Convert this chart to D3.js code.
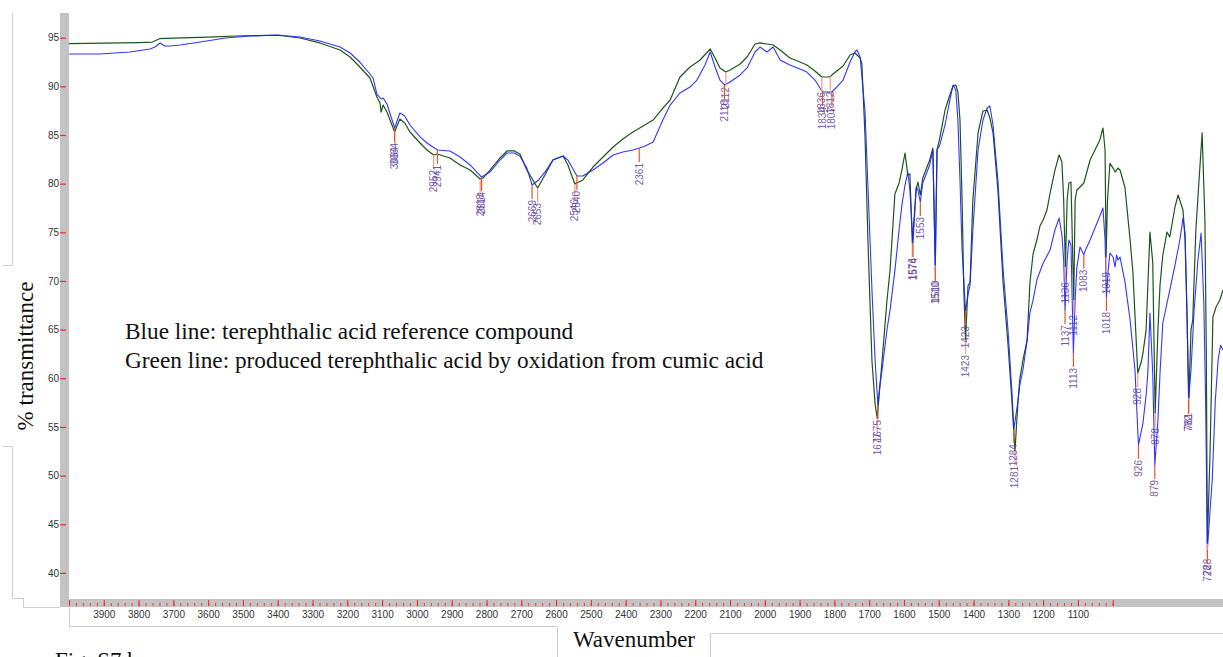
<!DOCTYPE html>
<html>
<head>
<meta charset="utf-8">
<script src="https://cdn.jsdelivr.net/npm/d3@7"></script>
<style>
  html, body { margin: 0; padding: 0; background: #fff; }
  svg { display: block; }
</style>
</head>
<body>
<svg id="chart" width="1223" height="657"></svg>
<script>
// IR spectra: [wavenumber (cm-1), % transmittance]
const greenSpectrum = [
  [4000,94.4],[3900,94.45],[3800,94.5],[3760,94.55],[3740,94.9],[3700,94.95],[3600,95.05],[3500,95.2],[3400,95.25],
  [3336,94.97],[3279,94.46],[3221,93.74],[3192,93.02],[3164,91.99],[3135,90.86],[3115,88.91],[3106,88.29],[3103,87.36],
  [3097,88.08],[3086,87.36],[3064,85.31],[3049,86.64],[3035,86.23],[3020,85.31],[2991,84.18],[2971,83.46],[2952,82.95],
  [2942,83.05],[2905,82.64],[2876,81.92],[2847,81.4],[2818,80.48],[2810,80.58],[2790,81.4],[2761,82.64],[2741,83.36],
  [2720,83.36],[2704,83.05],[2684,81.4],[2653,79.55],[2632,80.89],[2609,82.43],[2580,82.84],[2566,81.92],[2546,79.96],
  [2523,80.38],[2494,81.71],[2465,82.74],[2436,83.77],[2408,84.59],[2379,85.31],[2350,85.93],[2321,86.54],[2293,87.77],
  [2272,88.6],[2244,90.96],[2215,91.99],[2186,92.71],[2157,93.84],[2143,92.91],[2129,91.89],[2112,91.47],[2100,91.68],
  [2071,92.3],[2051,93.02],[2028,94.35],[2014,94.46],[1994,94.35],[1976,94.25],[1956,93.74],[1928,92.91],[1899,92.5],
  [1879,92.19],[1856,91.58],[1836,90.96],[1818,90.96],[1812,91.0],[1804,91.27],[1775,92.09],[1755,93.22],[1741,93.43],
  [1726,92.91],[1721,92.3],[1712,84.9],[1703,73.5],[1692,61.77],[1683,57.35],[1677,55.92],[1663,61.77],[1649,67.94],
  [1640,71.12],[1626,78.94],[1614,80.07],[1606,81.4],[1597,83.15],[1589,80.89],[1583,80.99],[1576,73.9],[1565,79.35],
  [1560,80.17],[1553,78.84],[1546,80.58],[1526,82.43],[1517,83.66],[1510,71.6],[1505,83.46],[1497,84.69],[1482,87.57],
  [1468,89.11],[1459,90.04],[1451,90.14],[1445,89.42],[1439,86.54],[1433,78.32],[1428,69.07],[1423,63.93],[1416,69.48],
  [1410,69.89],[1402,78.32],[1387,85.21],[1373,87.47],[1361,87.57],[1353,86.75],[1344,85.21],[1330,79.35],[1315,69.79],
  [1301,63.52],[1290,57.77],[1281,52.53],[1272,57.77],[1267,59.92],[1258,61.88],[1246,63.93],[1238,69.79],[1229,72.77],
  [1218,74.21],[1209,75.65],[1200,76.27],[1189,77.29],[1180,79.04],[1166,81.4],[1154,82.95],[1146,82.22],[1141,78.32],
  [1136,71.43],[1131,78.32],[1126,80.07],[1120,80.17],[1112,68.04],[1108,78.32],[1103,79.35],[1094,79.66],[1083,80.07],
  [1065,82.43],[1051,83.46],[1037,84.49],[1028,85.72],[1022,83.46],[1019,72.46],[1015,78.32],[1008,82.1],[999,81.6],
  [993,81.19],[985,81.6],[979,81.4],[965,79.66],[950,74.21],[942,70.92],[928,60.54],[918,61.67],[913,62.6],[904,64.98],
  [893,75.03],[885,71.95],[878,56.43],[870,64.98],[864,69.58],[856,72.67],[844,75.03],[836,74.52],[821,77.6],[812,78.84],
  [798,77.29],[792,74.21],[787,67.32],[781,57.97],[775,64.98],[770,65.99],[761,75.24],[755,78.63],[743,85.21],[735,76.27],
  [731,62.6],[728,43.0],[720,52.6],[712,66.3],[703,67.32],[692,68.04],[683,69.07]
];

const blueSpectrum = [
  [4000,93.32],[3911,93.32],[3825,93.53],[3767,93.84],[3753,94.04],[3738,94.46],[3725,94.15],[3710,94.15],[3680,94.25],
  [3623,94.56],[3550,94.97],[3480,95.17],[3400,95.28],[3336,95.07],[3279,94.66],[3221,94.04],[3192,93.43],[3164,92.5],
  [3135,91.27],[3126,90.86],[3115,89.21],[3103,88.7],[3097,88.8],[3086,88.19],[3064,85.72],[3049,87.26],[3035,86.95],
  [3020,86.03],[2991,84.8],[2971,84.18],[2941,83.46],[2905,83.36],[2876,82.74],[2847,81.92],[2814,80.68],[2790,81.19],
  [2761,82.43],[2741,83.15],[2720,83.15],[2704,82.84],[2684,81.6],[2669,79.86],[2650,80.38],[2632,81.19],[2609,82.43],
  [2580,82.84],[2566,82.43],[2540,80.79],[2523,80.79],[2494,81.4],[2465,82.12],[2436,82.95],[2408,83.25],[2379,83.46],
  [2361,83.66],[2344,83.87],[2321,84.28],[2293,86.54],[2272,88.08],[2244,89.32],[2215,89.93],[2195,90.65],[2172,92.19],
  [2157,93.53],[2143,91.99],[2129,90.65],[2116,90.14],[2100,90.45],[2071,91.17],[2051,91.89],[2028,93.53],[2014,94.04],
  [1994,93.53],[1976,94.04],[1956,92.71],[1928,92.19],[1899,91.78],[1879,91.47],[1856,90.65],[1834,89.42],[1818,89.42],
  [1807,89.42],[1790,90.04],[1775,90.65],[1755,92.5],[1741,93.53],[1735,93.74],[1726,93.02],[1712,87.46],[1692,69.07],
  [1683,61.88],[1675,57.25],[1669,59.31],[1663,60.85],[1649,64.96],[1640,67.01],[1626,71.12],[1614,75.24],[1606,77.8],
  [1597,79.86],[1589,81.19],[1583,79.35],[1574,73.9],[1565,79.66],[1560,79.35],[1553,78.12],[1546,80.07],[1526,81.92],
  [1517,83.46],[1510,71.43],[1505,83.46],[1497,83.97],[1482,86.03],[1468,88.6],[1459,90.14],[1451,89.63],[1445,86.54],
  [1439,80.38],[1433,73.18],[1423,66.91],[1416,68.55],[1410,69.58],[1402,75.24],[1387,83.46],[1373,86.54],[1361,87.77],
  [1353,87.98],[1344,86.03],[1330,80.38],[1315,71.12],[1301,64.96],[1290,58.79],[1284,54.78],[1272,57.77],[1267,59.31],
  [1258,60.85],[1246,63.93],[1238,66.71],[1229,68.04],[1218,70.1],[1200,71.85],[1180,73.18],[1166,75.24],[1154,76.47],
  [1146,74.72],[1141,72.15],[1137,67.01],[1131,72.15],[1126,74.21],[1120,73.7],[1113,62.6],[1108,68.04],[1103,71.43],
  [1094,73.5],[1083,72.7],[1078,73.2],[1065,74.21],[1051,75.44],[1037,76.68],[1028,77.5],[1022,74.21],[1018,68.35],
  [1013,71.12],[1008,72.87],[999,72.46],[993,71.43],[989,72.67],[985,72.15],[979,72.46],[965,69.96],[950,65.99],
  [936,60.85],[926,53.14],[913,55.4],[904,58.28],[899,60.54],[893,66.71],[885,60.54],[879,51.09],[870,55.7],[864,60.54],
  [856,65.68],[836,69.07],[821,71.64],[807,74.21],[798,76.47],[792,74.93],[787,67.32],[782,57.77],[775,60.85],[766,67.01],
  [755,72.15],[746,74.93],[738,67.63],[733,57.77],[728,42.35],[722,45.43],[714,49.55],[705,57.77],[697,61.88],[690,63.4],
  [683,62.9]
];

// Picked peak positions (cm-1) for each spectrum
const bluePeaks  = [3064, 2941, 2814, 2669, 2540, 2361, 2116, 1834, 1807, 1675, 1574, 1553, 1510, 1423, 1284, 1137, 1113, 1083, 1018, 926, 879, 782, 728];
const greenPeaks = [3064, 2952, 2818, 2653, 2546, 2112, 1836, 1812, 1677, 1576, 1510, 1423, 1281, 1136, 1112, 1019, 928, 878, 781, 728];

// Axis ticks
const yTickValues = [40, 45, 50, 55, 60, 65, 70, 75, 80, 85, 90, 95];
const xLabelValues = d3.range(3900, 1099, -100);
const xMajorTicks = d3.range(4000, 999, -100);
const xMinorTicks = d3.range(4000, 999, -20);

// Legend lines
const legendLines = [
  "Blue line: terephthalic acid reference compound",
  "Green line: produced terephthalic acid by oxidation from cumic acid"
];

const svg = d3.select("#chart");
const plot = { left: 69, right: 1223, top: 13, bottom: 599 };

const x = d3.scaleLinear().domain([4000, 683]).range([plot.left, plot.right]);
const y = d3.scaleLinear().domain([40, 95]).range([572.9, 37.7]);

const serif = "'Liberation Serif', 'Times New Roman', serif";
const sans = "'Liberation Sans', Arial, sans-serif";

// Faint page frame lines around the figure
const frame = svg.append("g").attr("fill", "none").attr("stroke", "#cfcfcf").attr("stroke-width", 1);
frame.append("path").attr("d", "M12.5,13V265.5H3");
frame.append("path").attr("d", "M3,446.5H12.5V598.5H23.5V607.5H60");
frame.append("path").attr("d", "M69.5,607V626.5H557.5V657");
frame.append("path").attr("d", "M710.5,657V633.5H1223");

// Gray axis bars
svg.append("rect").attr("x", 60).attr("y", 13).attr("width", 9).attr("height", 594).attr("fill", "#c3c3c3");
svg.append("rect").attr("x", 60).attr("y", 599).attr("width", 1163).attr("height", 8).attr("fill", "#c3c3c3");

// Y axis
const yAxis = svg.append("g")
  .attr("transform", "translate(60,0)")
  .call(d3.axisLeft(y).tickValues(yTickValues).tickSize(-6).tickPadding(1));
yAxis.select(".domain").remove();
yAxis.selectAll(".tick line").attr("stroke", "#ff2020").attr("stroke-width", 1.2);
yAxis.selectAll(".tick text").attr("font-family", sans).attr("font-size", 10).attr("fill", "#333");

// X axis: minor ticks, major ticks, labels
const xMinor = svg.append("g")
  .attr("transform", "translate(0,603)")
  .call(d3.axisBottom(x).tickValues(xMinorTicks).tickSize(3).tickFormat(""));
xMinor.select(".domain").remove();
xMinor.selectAll(".tick line").attr("stroke", "#ff3030").attr("stroke-width", 1);

const xMajor = svg.append("g")
  .attr("transform", "translate(0,600)")
  .call(d3.axisBottom(x).tickValues(xMajorTicks).tickSize(6).tickFormat(""));
xMajor.select(".domain").remove();
xMajor.selectAll(".tick line").attr("stroke", "#ff2020").attr("stroke-width", 1);

const xLabels = svg.append("g")
  .attr("transform", "translate(0,600)")
  .call(d3.axisBottom(x).tickValues(xLabelValues).tickSize(0).tickPadding(11).tickFormat(d3.format("d")));
xLabels.select(".domain").remove();
xLabels.selectAll(".tick text").attr("font-family", sans).attr("font-size", 10).attr("fill", "#333");

// Spectra
svg.append("defs").append("clipPath").attr("id", "plotClip")
  .append("rect").attr("x", plot.left).attr("y", plot.top)
  .attr("width", plot.right - plot.left).attr("height", plot.bottom - plot.top);

const line = d3.line().x(d => x(d[0])).y(d => y(d[1]));
const curves = svg.append("g").attr("clip-path", "url(#plotClip)");
curves.append("path").datum(greenSpectrum)
  .attr("d", line).attr("fill", "none").attr("stroke", "#1c561c").attr("stroke-width", 1.2)
  .attr("stroke-linejoin", "round");
curves.append("path").datum(blueSpectrum)
  .attr("d", line).attr("fill", "none").attr("stroke", "#1f1fff").attr("stroke-width", 1.1)
  .attr("stroke-linejoin", "round").attr("stroke-opacity", 0.9);

// Peak markers: short drop line from the curve, then a vertical label
function valueAt(series, w) {
  const hit = series.find(d => d[0] === w);
  if (hit) return hit[1];
  const i = series.findIndex(d => d[0] < w);
  const a = series[i - 1], b = series[i];
  return a[1] + (b[1] - a[1]) * (a[0] - w) / (a[0] - b[0]);
}

function drawPeaks(series, peaks, lineColor) {
  const g = svg.append("g");
  peaks.forEach(w => {
    const px = x(w), py = y(valueAt(series, w));
    g.append("line").attr("x1", px).attr("x2", px).attr("y1", py).attr("y2", py + 14)
      .attr("stroke", lineColor).attr("stroke-width", 1.2);
    g.append("text")
      .attr("transform", `translate(${px},${py + 15}) rotate(-90)`)
      .attr("text-anchor", "end").attr("dy", "0.35em")
      .attr("font-family", sans).attr("font-size", 10).attr("fill", "#5a3a9a").attr("fill-opacity", 0.85)
      .text(w);
  });
}
drawPeaks(greenSpectrum, greenPeaks, "#f29a80");
drawPeaks(blueSpectrum, bluePeaks, "#e4552e");

// Legend text
svg.append("g").selectAll("text").data(legendLines).join("text")
  .attr("x", 125).attr("y", (d, i) => 339 + i * 28.5)
  .attr("font-family", serif).attr("font-size", 23.3).attr("fill", "#111")
  .text(d => d);

// Axis titles
svg.append("text")
  .attr("transform", "translate(33,356) rotate(-90)")
  .attr("text-anchor", "middle")
  .attr("font-family", serif).attr("font-size", 23).attr("fill", "#111")
  .text("% transmittance");

svg.append("text")
  .attr("x", 634).attr("y", 647).attr("text-anchor", "middle")
  .attr("font-family", serif).attr("font-size", 23).attr("fill", "#111")
  .text("Wavenumber");

// Figure caption, running off the bottom edge of the page
svg.append("text")
  .attr("x", 55).attr("y", 668)
  .attr("font-family", serif).attr("font-size", 23).attr("fill", "#111")
  .text("Fig. S7 b");
</script>
</body>
</html>
